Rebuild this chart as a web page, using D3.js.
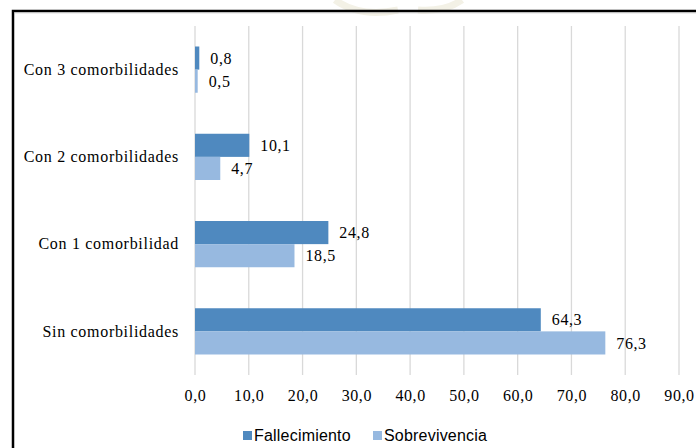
<!DOCTYPE html>
<html>
<head>
<meta charset="utf-8">
<script src="https://cdn.jsdelivr.net/npm/d3@7/dist/d3.min.js"></script>
<style>
  html, body { margin: 0; padding: 0; background: #fff; }
  svg { display: block; }
</style>
</head>
<body>
<svg id="chart" width="696" height="448"></svg>
<script>
// Categories (top to bottom) and the two series, in percent
const categories = ["Con 3 comorbilidades", "Con 2 comorbilidades", "Con 1 comorbilidad", "Sin comorbilidades"];
const seriesNames = ["Fallecimiento", "Sobrevivencia"];
const fallecimiento = [0.8, 10.1, 24.8, 64.3];
const sobrevivencia = [0.5, 4.7, 18.5, 76.3];
const xTicks = [0, 10, 20, 30, 40, 50, 60, 70, 80, 90];

const colors = { "Fallecimiento": "#4f89bf", "Sobrevivencia": "#97b9e0" };
const serif = "'Liberation Serif', 'Times New Roman', serif";
const sans = "'Liberation Sans', Arial, sans-serif";
const fmt = v => v.toFixed(1).replace(".", ",");

const svg = d3.select("#chart");

// faint emblem behind the frame
const wm = svg.append("g").attr("fill", "none").attr("stroke", "#f3f1e6").attr("stroke-width", 7);
wm.append("path").attr("d", "M335,0 Q360,18 398,10");
wm.append("path").attr("d", "M418,10 Q445,12 462,0");

// outer frame (top and left edges)
svg.append("path")
  .attr("d", "M13,448 L13,11 L696,11")
  .attr("fill", "none").attr("stroke", "#000").attr("stroke-width", 2.5);
svg.append("line").attr("x1", 14).attr("x2", 696).attr("y1", 12.8).attr("y2", 12.8)
  .attr("stroke", "#bbb").attr("stroke-width", 0.8);

const m = { left: 195, right: 679, top: 26, bottom: 375 };

const x = d3.scaleLinear().domain([0, 90]).range([m.left, m.right]);
const y = d3.scaleBand().domain(categories).range([m.top, m.bottom]).paddingInner(0.47).paddingOuter(0.235);
const ySub = d3.scaleBand().domain(seriesNames).range([0, y.bandwidth()]);

// vertical gridlines
svg.append("g")
  .selectAll("line").data(xTicks).join("line")
  .attr("x1", d => x(d)).attr("x2", d => x(d))
  .attr("y1", m.top).attr("y2", m.bottom)
  .attr("stroke", "#d9d9d9").attr("stroke-width", 1.3);

// x axis labels
const xAxis = d3.axisBottom(x).tickValues(xTicks).tickFormat(fmt).tickSize(0).tickPadding(0);
const gx = svg.append("g").attr("transform", `translate(0,${m.bottom + 15})`).call(xAxis);
gx.select(".domain").remove();
gx.selectAll("text").attr("font-family", serif).attr("font-size", 16)
  .attr("letter-spacing", 0.6).attr("fill", "#000").attr("dy", "0.71em");

// y axis labels
const yAxis = d3.axisLeft(y).tickSize(0).tickPadding(0);
const gy = svg.append("g").attr("transform", `translate(${m.left - 16},0)`).call(yAxis);
gy.select(".domain").remove();
gy.selectAll("text").attr("font-family", serif).attr("font-size", 16)
  .attr("letter-spacing", 0.7).attr("fill", "#000");

// bars
const rows = categories.map((c, i) => ({ cat: c, values: [
  { s: "Fallecimiento", v: fallecimiento[i] },
  { s: "Sobrevivencia", v: sobrevivencia[i] }
]}));

const grp = svg.append("g").selectAll("g").data(rows).join("g")
  .attr("transform", d => `translate(0,${y(d.cat)})`);

grp.selectAll("rect").data(d => d.values).join("rect")
  .attr("x", x(0))
  .attr("y", d => ySub(d.s))
  .attr("width", d => x(d.v) - x(0))
  .attr("height", ySub.bandwidth())
  .attr("fill", d => colors[d.s]);

grp.selectAll("text").data(d => d.values).join("text")
  .attr("x", d => x(d.v) + 11)
  .attr("y", d => ySub(d.s) + ySub.bandwidth() / 2)
  .attr("dy", "0.35em")
  .attr("font-family", serif).attr("font-size", 16).attr("letter-spacing", 0.6).attr("fill", "#000")
  .text(d => fmt(d.v));

// legend
const legendX = [243, 373];
const lg = svg.append("g").selectAll("g").data(seriesNames).join("g")
  .attr("transform", (d, i) => `translate(${legendX[i]},435)`);
lg.append("rect").attr("x", 0).attr("y", -4).attr("width", 9).attr("height", 9).attr("fill", d => colors[d]);
lg.append("text").attr("x", 11).attr("y", 0).attr("dy", "0.35em")
  .attr("font-family", sans).attr("font-size", 16).attr("letter-spacing", 0.2).attr("fill", "#000").text(d => d);
</script>
</body>
</html>
